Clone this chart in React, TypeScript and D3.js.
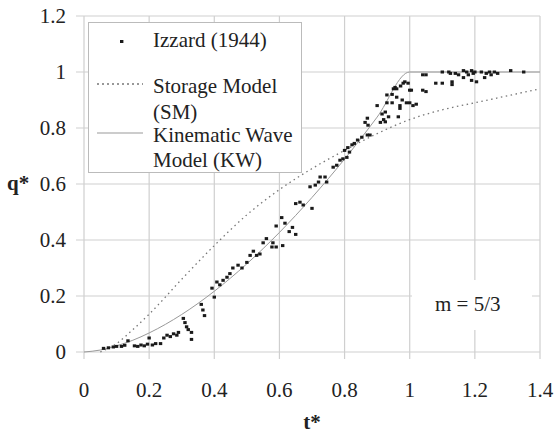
import React from 'react';
import * as d3 from 'd3';

// Izzard (1944) measured points, t* and q*
const izzardT = [
  0.06, 0.075, 0.09, 0.1, 0.115, 0.125, 0.135, 0.155, 0.165, 0.175, 0.185, 0.195, 0.2, 0.21, 0.22, 0.235,
  0.245, 0.255, 0.265, 0.275, 0.285, 0.29, 0.305, 0.31, 0.315, 0.32, 0.33, 0.33, 0.36, 0.365, 0.37,
  0.393, 0.4, 0.408, 0.417, 0.427, 0.439, 0.448, 0.457, 0.473, 0.485, 0.5, 0.51, 0.52, 0.53, 0.54, 0.55,
  0.56, 0.577, 0.58, 0.59, 0.59, 0.607, 0.61, 0.617, 0.63, 0.64, 0.65, 0.65, 0.663, 0.673, 0.7, 0.694,
  0.71, 0.72, 0.725, 0.74, 0.745, 0.765, 0.776, 0.786, 0.795, 0.8, 0.807, 0.81, 0.815, 0.823, 0.83, 0.84,
  0.853, 0.863, 0.87, 0.87, 0.872, 0.878, 0.9, 0.91, 0.915, 0.92, 0.925, 0.925, 0.93, 0.93, 0.935, 0.946,
  0.946, 0.95, 0.955, 0.96, 0.96, 0.965, 0.97, 0.97, 0.972, 0.977, 0.98, 0.985, 0.99, 0.995, 1.0, 1.0,
  1.005, 1.01, 1.02, 1.04, 1.04, 1.05, 1.05, 1.08, 1.1, 1.1, 1.12, 1.125, 1.13, 1.13, 1.14, 1.15, 1.165,
  1.165, 1.175, 1.18, 1.19, 1.19, 1.195, 1.2, 1.205, 1.22, 1.23, 1.235, 1.245, 1.25, 1.26, 1.27, 1.31, 1.35,
];
const izzardQ = [
  0.013, 0.015, 0.018, 0.02, 0.02, 0.024, 0.04, 0.022, 0.02, 0.025, 0.022, 0.028, 0.05, 0.025, 0.03, 0.03,
  0.05, 0.06, 0.055, 0.065, 0.06, 0.07, 0.12, 0.105, 0.09, 0.08, 0.07, 0.045, 0.17, 0.15, 0.13,
  0.228, 0.196, 0.25, 0.24, 0.256, 0.267, 0.28, 0.3, 0.31, 0.3, 0.32, 0.345, 0.36, 0.345, 0.35, 0.39,
  0.405, 0.375, 0.39, 0.375, 0.45, 0.48, 0.38, 0.46, 0.43, 0.445, 0.42, 0.53, 0.535, 0.525, 0.513, 0.59,
  0.596, 0.607, 0.625, 0.625, 0.607, 0.66, 0.667, 0.685, 0.69, 0.72, 0.695, 0.73, 0.714, 0.74, 0.745, 0.757,
  0.767, 0.82, 0.775, 0.835, 0.81, 0.775, 0.88, 0.82, 0.85, 0.83, 0.857, 0.822, 0.89, 0.918, 0.84, 0.89,
  0.92, 0.94, 0.945, 0.91, 0.94, 0.84, 0.88, 0.87, 0.95, 0.9, 0.96, 0.965, 0.89, 0.96, 0.935, 0.89,
  0.935, 0.88, 0.885, 0.99, 0.935, 0.99, 0.93, 0.96, 0.96, 1.0, 1.0, 0.995, 0.965, 0.955, 0.995, 0.99, 1.005,
  0.98, 1.0, 0.99, 1.005, 0.97, 0.995, 1.0, 0.965, 1.0, 0.98, 0.995, 1.0, 0.99, 1.0, 0.995, 1.005, 1.0,
];

// Storage model (SM)
const smT = [0.05, 0.1, 0.15, 0.2, 0.3, 0.4, 0.5, 0.6, 0.7, 0.8, 0.9, 1.0, 1.1, 1.2, 1.3, 1.4];
const smQ = [0.0, 0.03, 0.08, 0.135, 0.26, 0.38, 0.49, 0.58, 0.655, 0.72, 0.78, 0.83, 0.865, 0.89, 0.915, 0.94];

// Kinematic wave model (KW)
const kwT = [0, 0.05, 0.1, 0.15, 0.2, 0.3, 0.4, 0.5, 0.6, 0.7, 0.8, 0.9, 1.0, 1.4];
const kwQ = [0, 0.007, 0.022, 0.042, 0.068, 0.134, 0.217, 0.315, 0.427, 0.552, 0.689, 0.839, 1.0, 1.0];

const xTicks = [0, 0.2, 0.4, 0.6, 0.8, 1, 1.2, 1.4];
const yTicks = [0, 0.2, 0.4, 0.6, 0.8, 1, 1.2];

const W = 558;
const H = 435;
const FONT = 'Liberation Serif';
const GRID = '#cfcfcf';
const INK = '#222';

const App: React.FC = () => {
  const x = d3.scaleLinear().domain([0, 1.4]).range([84, 540]);
  const y = d3.scaleLinear().domain([0, 1.2]).range([352, 16]);

  const line = d3.line<[number, number]>()
    .x(d => x(d[0]))
    .y(d => y(d[1]))
    .curve(d3.curveMonotoneX);

  const smPath = line(smT.map((t, i) => [t, smQ[i]] as [number, number])) || '';
  const kwPath = line(kwT.map((t, i) => [t, kwQ[i]] as [number, number])) || '';

  return (
    <div style={{ position: 'fixed', left: 0, top: 0, width: W, height: H, background: '#fff' }}>
      <svg width={W} height={H} style={{ display: 'block' }} fontFamily={FONT} fontSize={21} fill={INK}>
        <rect x={0} y={0} width={W} height={H} fill="#fff" />

        {/* grid */}
        {xTicks.map(t => (
          <line key={'gx' + t} x1={x(t)} x2={x(t)} y1={y(1.2)} y2={y(0) + 7} stroke={GRID} strokeWidth={1.2} />
        ))}
        {yTicks.map(t => (
          <line key={'gy' + t} x1={x(0) - 8} x2={x(1.4)} y1={y(t)} y2={y(t)} stroke={GRID} strokeWidth={1.2} />
        ))}

        {/* tick labels */}
        {yTicks.map(t => (
          <text key={'yl' + t} x={66} y={y(t) + 7} textAnchor="end">{String(t)}</text>
        ))}
        {xTicks.map(t => (
          <text key={'xl' + t} x={x(t)} y={397} textAnchor="middle">{String(t)}</text>
        ))}

        {/* axis titles */}
        <text x={7} y={190} fontWeight="bold">q*</text>
        <text x={312} y={429} fontWeight="bold" textAnchor="middle">t*</text>

        {/* model curves */}
        <path d={smPath} fill="none" stroke="#777" strokeWidth={1.3} strokeDasharray="1.5 3.5" />
        <path d={kwPath} fill="none" stroke="#999" strokeWidth={1} />

        {/* Izzard points */}
        {izzardT.map((t, i) => (
          <rect key={'p' + i} x={x(t) - 1.7} y={y(izzardQ[i]) - 1.5} width={3.4} height={3} fill="#1a1a1a" />
        ))}

        {/* annotation */}
        <rect x={412} y={280} width={120} height={50} fill="#fff" />
        <text x={435} y={311}>m = 5/3</text>

        {/* legend */}
        <rect x={88.5} y={22.5} width={213} height={150} fill="#fff" stroke="#bbb" strokeWidth={1} />
        <rect x={120} y={40} width={3.4} height={3} fill="#1a1a1a" />
        <text x={153} y={47}>Izzard (1944)</text>
        <line x1={97} x2={143} y1={84} y2={84} stroke="#777" strokeWidth={1.3} strokeDasharray="2 3" />
        <text x={153} y={93}>Storage Model</text>
        <text x={153} y={119}>(SM)</text>
        <line x1={97} x2={143} y1={133} y2={133} stroke="#999" strokeWidth={1} />
        <text x={153} y={142}>Kinematic Wave</text>
        <text x={153} y={167}>Model (KW)</text>
      </svg>
    </div>
  );
};

export default App;
